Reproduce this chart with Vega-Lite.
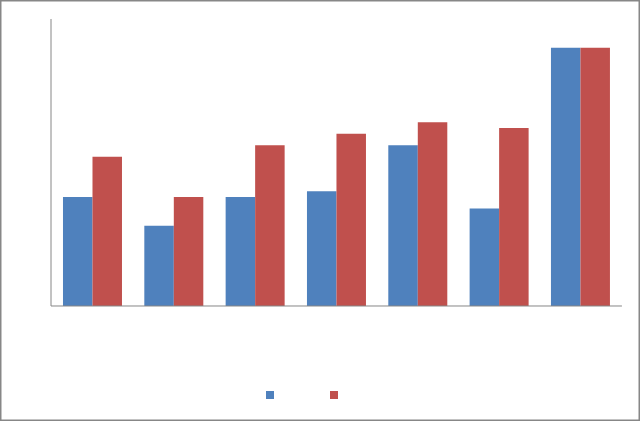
{
  "$schema": "https://vega.github.io/schema/vega-lite/v6.json",
  "width": 640,
  "height": 421,
  "autosize": {"type": "fit", "contains": "padding"},
  "padding": 0,
  "background": "white",
  "config": {"view": {"stroke": "#878787", "strokeWidth": 3}},
  "data": {"values": [
    {"cat": "1", "series": "Series 1", "value": 1.9},
    {"cat": "1", "series": "Series 2", "value": 2.6},
    {"cat": "2", "series": "Series 1", "value": 1.4},
    {"cat": "2", "series": "Series 2", "value": 1.9},
    {"cat": "3", "series": "Series 1", "value": 1.9},
    {"cat": "3", "series": "Series 2", "value": 2.8},
    {"cat": "4", "series": "Series 1", "value": 2.0},
    {"cat": "4", "series": "Series 2", "value": 3.0},
    {"cat": "5", "series": "Series 1", "value": 2.8},
    {"cat": "5", "series": "Series 2", "value": 3.2},
    {"cat": "6", "series": "Series 1", "value": 1.7},
    {"cat": "6", "series": "Series 2", "value": 3.1},
    {"cat": "7", "series": "Series 1", "value": 4.5},
    {"cat": "7", "series": "Series 2", "value": 4.5}
  ]},
  "layer": [
    {
      "mark": {"type": "bar"},
      "encoding": {
        "x": {"field": "cat", "type": "nominal", "axis": null,
              "scale": {"paddingInner": 0.2746, "paddingOuter": 0.572, "align": 0.677}},
        "xOffset": {"field": "series", "type": "nominal", "scale": {"paddingInner": 0, "paddingOuter": 0}},
        "y": {"field": "value", "type": "quantitative", "axis": null,
              "scale": {"domain": [-2.0035, 5.331], "nice": false, "zero": false}},
        "color": {"field": "series", "type": "nominal",
                  "scale": {"range": ["#4F81BD", "#C0504D"]},
                  "legend": {"orient": "none", "legendX": 265, "legendY": 390, "direction": "horizontal",
                             "title": null, "symbolType": "square", "symbolSize": 64,
                             "labelColor": "white", "labelFontSize": 10, "columnPadding": 13}}
      }
    },
    {
      "data": {"values": [{}]},
      "mark": {"type": "rule", "color": "#868686", "strokeWidth": 1},
      "encoding": {
        "x": {"datum": "1", "bandPosition": -0.203},
        "x2": {"datum": "7", "bandPosition": 1.203},
        "y": {"datum": 0}
      }
    },
    {
      "data": {"values": [{}]},
      "mark": {"type": "rule", "color": "#868686", "strokeWidth": 1},
      "encoding": {
        "x": {"datum": "1", "bandPosition": -0.203},
        "y": {"datum": 0},
        "y2": {"datum": 5}
      }
    }
  ]
}
